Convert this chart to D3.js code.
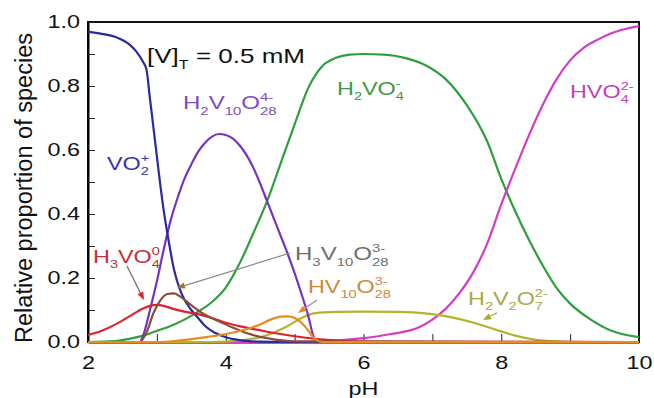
<!DOCTYPE html>
<html>
<head>
<meta charset="utf-8">
<script src="https://cdn.jsdelivr.net/npm/d3@7"></script>
<style>
  html, body { margin: 0; padding: 0; background: #fff; }
  svg { display: block; font-family: "Liberation Sans", Arial, Helvetica, sans-serif; }
</style>
</head>
<body>
<svg id="chart" width="654" height="398"></svg>
<script>
// ---------- data ----------
const xTickValues = [2, 4, 6, 8, 10];
const xMinorTicks = [3, 5, 7, 9];
const yTickValues = [0, 0.2, 0.4, 0.6, 0.8, 1.0];
const yMinorTicks = [0.1, 0.3, 0.5, 0.7, 0.9];

const pH_VO2 = [2.0, 2.2, 2.4, 2.6, 2.7, 2.8, 2.85, 2.9, 2.95, 3.0, 3.05, 3.1, 3.16, 3.25, 3.35, 3.5, 3.6, 3.7, 3.85, 4.0, 4.2, 4.5, 4.8, 10];
const val_VO2 = [0.970, 0.963, 0.953, 0.930, 0.908, 0.875, 0.85, 0.76, 0.67, 0.58, 0.49, 0.41, 0.33, 0.225, 0.155, 0.10, 0.075, 0.05, 0.028, 0.015, 0.006, 0.001, 0, 0];

const pH_H2V10 = [2.0, 2.75, 2.8, 2.9, 3.0, 3.1, 3.2, 3.3, 3.4, 3.5, 3.6, 3.7, 3.8, 3.9, 4.0, 4.1, 4.2, 4.3, 4.4, 4.5, 4.6, 4.7, 4.8, 4.9, 5.0, 5.1, 5.2, 5.27, 5.33, 10];
const val_H2V10 = [0, 0, 0.02, 0.1, 0.19, 0.29, 0.38, 0.45, 0.51, 0.555, 0.595, 0.623, 0.642, 0.65, 0.647, 0.636, 0.615, 0.585, 0.545, 0.495, 0.44, 0.385, 0.33, 0.275, 0.215, 0.15, 0.08, 0.02, 0, 0];

const pH_H2VO4 = [2.0, 2.4, 2.6, 2.8, 3.0, 3.2, 3.4, 3.6, 3.8, 4.0, 4.2, 4.4, 4.6, 4.8, 5.0, 5.2, 5.4, 5.6, 5.8, 6.0, 6.3, 6.6, 6.9, 7.2, 7.5, 7.8, 8.0, 8.2, 8.4, 8.6, 8.8, 9.0, 9.3, 9.6, 10];
const val_H2VO4 = [0, 0.003, 0.01, 0.02, 0.035, 0.05, 0.07, 0.095, 0.125, 0.17, 0.245, 0.34, 0.44, 0.56, 0.68, 0.795, 0.862, 0.888, 0.898, 0.9, 0.898, 0.888, 0.865, 0.82, 0.74, 0.625, 0.51, 0.41, 0.32, 0.24, 0.17, 0.12, 0.07, 0.035, 0.015];

const pH_HVO4 = [2.0, 5.0, 5.5, 6.0, 6.4, 6.8, 7.0, 7.2, 7.4, 7.6, 7.8, 8.0, 8.2, 8.4, 8.6, 8.8, 9.0, 9.2, 9.4, 9.6, 9.8, 10];
const val_HVO4 = [0, 0, 0.003, 0.012, 0.025, 0.045, 0.07, 0.105, 0.155, 0.22, 0.31, 0.43, 0.54, 0.645, 0.74, 0.82, 0.88, 0.92, 0.945, 0.965, 0.978, 0.987];

const pH_H3VO4 = [2.0, 2.2, 2.4, 2.6, 2.8, 2.9, 3.0, 3.1, 3.2, 3.4, 3.6, 3.8, 4.0, 4.3, 4.6, 5.0, 5.3, 5.6, 6.0, 10];
const val_H3VO4 = [0.022, 0.035, 0.055, 0.08, 0.105, 0.113, 0.116, 0.113, 0.106, 0.095, 0.087, 0.075, 0.06, 0.045, 0.032, 0.018, 0.01, 0.005, 0.001, 0];

const pH_H3V10 = [2.0, 2.75, 2.85, 2.95, 3.05, 3.15, 3.25, 3.35, 3.5, 3.7, 3.9, 4.1, 4.3, 4.6, 5.0, 10];
const val_H3V10 = [0, 0, 0.03, 0.09, 0.13, 0.15, 0.152, 0.14, 0.115, 0.085, 0.065, 0.045, 0.028, 0.012, 0.002, 0];

const pH_HV10 = [2.0, 3.0, 3.3, 3.6, 4.0, 4.3, 4.5, 4.65, 4.8, 4.9, 5.0, 5.1, 5.2, 5.3, 5.4, 10];
const val_HV10 = [0, 0, 0.004, 0.012, 0.025, 0.04, 0.055, 0.07, 0.079, 0.08, 0.075, 0.06, 0.035, 0.008, 0, 0];

const pH_H2V2O7 = [2.0, 3.8, 4.2, 4.5, 4.7, 4.9, 5.1, 5.3, 5.6, 6.0, 6.5, 7.0, 7.3, 7.6, 7.9, 8.2, 8.5, 8.8, 9.2, 10];
const val_H2V2O7 = [0, 0, 0.005, 0.015, 0.03, 0.05, 0.075, 0.09, 0.094, 0.095, 0.094, 0.087, 0.076, 0.06, 0.04, 0.02, 0.007, 0.002, 0, 0];

// series table built from the arrays above (drawing order)
const series = [
  { pH: pH_H2VO4,  v: val_H2VO4,  color: "#2f9e3c" },
  { pH: pH_HVO4,   v: val_HVO4,   color: "#d23cc6" },
  { pH: pH_H2V2O7, v: val_H2V2O7, color: "#b4b42a" },
  { pH: pH_H2V10,  v: val_H2V10,  color: "#7434c0" },
  { pH: pH_VO2,    v: val_VO2,    color: "#2a2aa0" },
  { pH: pH_H3VO4,  v: val_H3VO4,  color: "#e0202c" },
  { pH: pH_H3V10,  v: val_H3V10,  color: "#8a4c3c" },
  { pH: pH_HV10,   v: val_HV10,   color: "#e88a1c" }
];

// ---------- layout ----------
const svg = d3.select("#chart");
const M = { left: 88, right: 639, top: 22, bottom: 342 };
const SX = 1.3;          // horizontal stretch of the lettering in the reference
const FS = 18;

const x = d3.scaleLinear().domain([2, 10]).range([M.left, M.right]);
const y = d3.scaleLinear().domain([0, 1]).range([M.bottom, M.top]);

// frame
svg.append("rect").attr("x", M.left).attr("y", M.top)
  .attr("width", M.right - M.left).attr("height", M.bottom - M.top)
  .attr("fill", "none").attr("stroke", "#111").attr("stroke-width", 2);

// axes (ticks pointing inward)
const gx = svg.append("g").attr("transform", `translate(0,${M.bottom})`)
  .call(d3.axisBottom(x).tickValues(xTickValues).tickSizeInner(-8).tickSizeOuter(0).tickPadding(14).tickFormat(d3.format("d")));
gx.selectAll("text").attr("font-size", FS).attr("font-family", null).attr("fill", "#111")
  .attr("transform", `scale(${SX},1)`);
gx.select(".domain").attr("stroke-width", 2);
svg.append("g").attr("transform", `translate(0,${M.bottom})`)
  .call(d3.axisBottom(x).tickValues(xMinorTicks).tickSizeInner(-8).tickSizeOuter(0).tickFormat(""))
  .select(".domain").remove();

const gy = svg.append("g").attr("transform", `translate(${M.left},0)`)
  .call(d3.axisLeft(y).tickValues(yTickValues).tickSizeInner(-7).tickSizeOuter(0).tickPadding(8).tickFormat(d3.format(".1f")));
gy.selectAll("text").attr("font-size", FS).attr("font-family", null).attr("fill", "#111")
  .attr("x", -8 / SX).attr("transform", `scale(${SX},1)`);
gy.select(".domain").attr("stroke-width", 2);
svg.append("g").attr("transform", `translate(${M.left},0)`)
  .call(d3.axisLeft(y).tickValues(yMinorTicks).tickSizeInner(-7).tickSizeOuter(0).tickFormat(""))
  .select(".domain").remove();

svg.selectAll(".tick line").attr("stroke", "#222").attr("stroke-width", 1);

// axis titles
svg.append("text").attr("transform", `translate(${x(6)},395) scale(${SX},1)`)
  .attr("text-anchor", "middle").attr("font-size", FS).attr("fill", "#111").text("pH");
svg.append("text").attr("transform", `translate(32,${(M.top + M.bottom) / 2 + 6}) rotate(-90) scale(1,1.15)`)
  .attr("text-anchor", "middle").attr("font-size", 20).attr("fill", "#111")
  .attr("textLength", 310).attr("lengthAdjust", "spacingAndGlyphs")
  .text("Relative proportion of species");

// curves
const line = d3.line().x(d => x(d[0])).y(d => y(d[1])).curve(d3.curveMonotoneX);
svg.append("g").selectAll("path").data(series).join("path")
  .attr("d", s => line(s.pH.map((p, i) => [p, s.v[i]])))
  .attr("fill", "none").attr("stroke", s => s.color).attr("stroke-width", 2.2)
  .attr("stroke-linejoin", "round");

// ---------- annotations ----------
const labels = [
  { parts: [{ t: "[V]" }, { sub: "T" }, { t: " = 0.5 mM" }], at: [2.857, 0.872], color: "#111", fs: 20 },
  { parts: [{ t: "VO" }, { sub: "2", sup: "+" }], at: [2.276, 0.5375], color: "#3535a8", fs: FS },
  { parts: [{ t: "H" }, { sub: "2" }, { t: "V" }, { sub: "10" }, { t: "O" }, { sub: "28", sup: "4-" }], at: [3.379, 0.728], color: "#7e4cc0", fs: 18.5 },
  { parts: [{ t: "H" }, { sub: "2" }, { t: "VO" }, { sub: "4", sup: "-" }], at: [5.615, 0.772], color: "#3c9a4a", fs: FS },
  { parts: [{ t: "HVO" }, { sub: "4", sup: "2-" }], at: [8.998, 0.7625], color: "#c040c0", fs: FS },
  { parts: [{ t: "H" }, { sub: "3" }, { t: "VO" }, { sub: "4", sup: "0" }], at: [2.073, 0.247], color: "#c0303a", fs: FS },
  { parts: [{ t: "H" }, { sub: "3" }, { t: "V" }, { sub: "10" }, { t: "O" }, { sub: "28", sup: "3-" }], at: [5.005, 0.256], color: "#6e6e6e", fs: 18.5 },
  { parts: [{ t: "HV" }, { sub: "10" }, { t: "O" }, { sub: "28", sup: "3-" }], at: [5.194, 0.153], color: "#d0883a", fs: FS },
  { parts: [{ t: "H" }, { sub: "2" }, { t: "V" }, { sub: "2" }, { t: "O" }, { sub: "7", sup: "2-" }], at: [7.517, 0.116], color: "#a8a84a", fs: FS }
];

function richLabel(lab) {
  const g = svg.append("g")
    .attr("transform", `translate(${x(lab.at[0])},${y(lab.at[1])}) scale(${SX},1)`);
  const t = g.append("text").attr("fill", lab.color).attr("font-size", lab.fs);
  let cx = 0;
  const small = lab.fs * 0.62;
  lab.parts.forEach(p => {
    if (p.t !== undefined) {
      const s = t.append("tspan").attr("x", cx).attr("y", 0).text(p.t);
      cx += s.node().getComputedTextLength();
    } else {
      let w = 0;
      if (p.sub) {
        const s = t.append("tspan").attr("x", cx).attr("y", lab.fs * 0.3).attr("font-size", small).text(p.sub);
        w = Math.max(w, s.node().getComputedTextLength());
      }
      if (p.sup) {
        const s = t.append("tspan").attr("x", cx).attr("y", -lab.fs * 0.42).attr("font-size", small).text(p.sup);
        w = Math.max(w, s.node().getComputedTextLength());
      }
      cx += w;
    }
  });
}
labels.forEach(richLabel);

const arrows = [
  { from: [2.566, 0.2375], to: [2.813, 0.131], line: "#8a5a5a", head: "#e0202c" },
  { from: [4.933, 0.278], to: [3.292, 0.169], line: "#8a8a8a", head: "#a8742c" },
  { from: [5.325, 0.131], to: [5.049, 0.091], line: "#9a8aa8", head: "#e88a1c" },
  { from: [7.938, 0.091], to: [7.735, 0.069], line: "#a8a84a", head: "#a8a82a" }
];
arrows.forEach(a => {
  const x1 = x(a.from[0]), y1 = y(a.from[1]), x2 = x(a.to[0]), y2 = y(a.to[1]);
  const ang = Math.atan2(y2 - y1, x2 - x1);
  const L = 8, W = 3.2;
  const bx = x2 - L * Math.cos(ang), by = y2 - L * Math.sin(ang);
  svg.append("line").attr("x1", x1).attr("y1", y1).attr("x2", bx).attr("y2", by)
    .attr("stroke", a.line).attr("stroke-width", 1.2);
  const px = -Math.sin(ang) * W, py = Math.cos(ang) * W;
  svg.append("path")
    .attr("d", `M${x2},${y2}L${bx + px},${by + py}L${bx - px},${by - py}Z`)
    .attr("fill", a.head);
});
</script>
</body>
</html>
